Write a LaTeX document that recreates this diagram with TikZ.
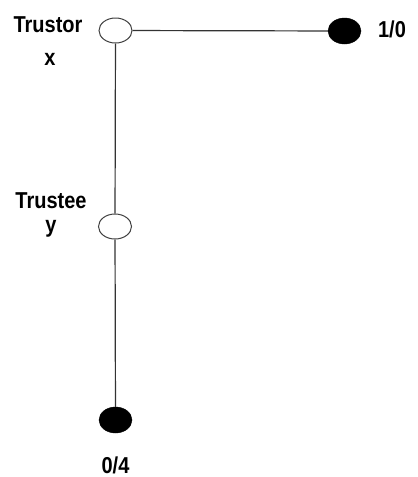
\documentclass[tikz,border=0pt]{standalone}
\usepackage{fontspec}
\setmainfont{Liberation Sans}
\usetikzlibrary{shapes.geometric}
\newcommand{\tall}[1]{\scalebox{1}[1.15]{#1}}
\begin{document}
\begin{tikzpicture}[x=1pt,y=-1pt,
  open/.style={ellipse,draw=black!75,line width=1pt,fill=white,minimum width=33pt,minimum height=25pt,inner sep=0pt},
  closed/.style={ellipse,draw=black,fill=black,minimum width=33pt,minimum height=26pt,inner sep=0pt},
  lbl/.style={font=\fontsize{20}{22}\selectfont\bfseries,anchor=base,inner sep=0pt},
  edge/.style={draw=black!80,line width=1.2pt}]
\useasboundingbox (0,0) rectangle (418,477);
\node[open] (tor) at (115.5,30.5) {};
\node[closed] (r) at (344.5,31) {};
\node[open] (tee) at (115,226.5) {};
\node[closed] (b) at (115.5,420) {};
\node[lbl] (ltor) at (48,32) {\tall{Trustor}};
\node[lbl] (lx) at (50,65) {\tall{x}};
\node[lbl] (ltee) at (51,208) {\tall{Trustee}};
\node[lbl] (ly) at (51,232) {\tall{y}};
\node[lbl] (l10) at (392,37) {\tall{1/0}};
\node[lbl] (l04) at (115.5,473) {\tall{0/4}};
\draw[edge] (tor) -- (r);
\draw[edge] (tor) -- (tee);
\draw[edge] (tee) -- (b);
\end{tikzpicture}
\end{document}
